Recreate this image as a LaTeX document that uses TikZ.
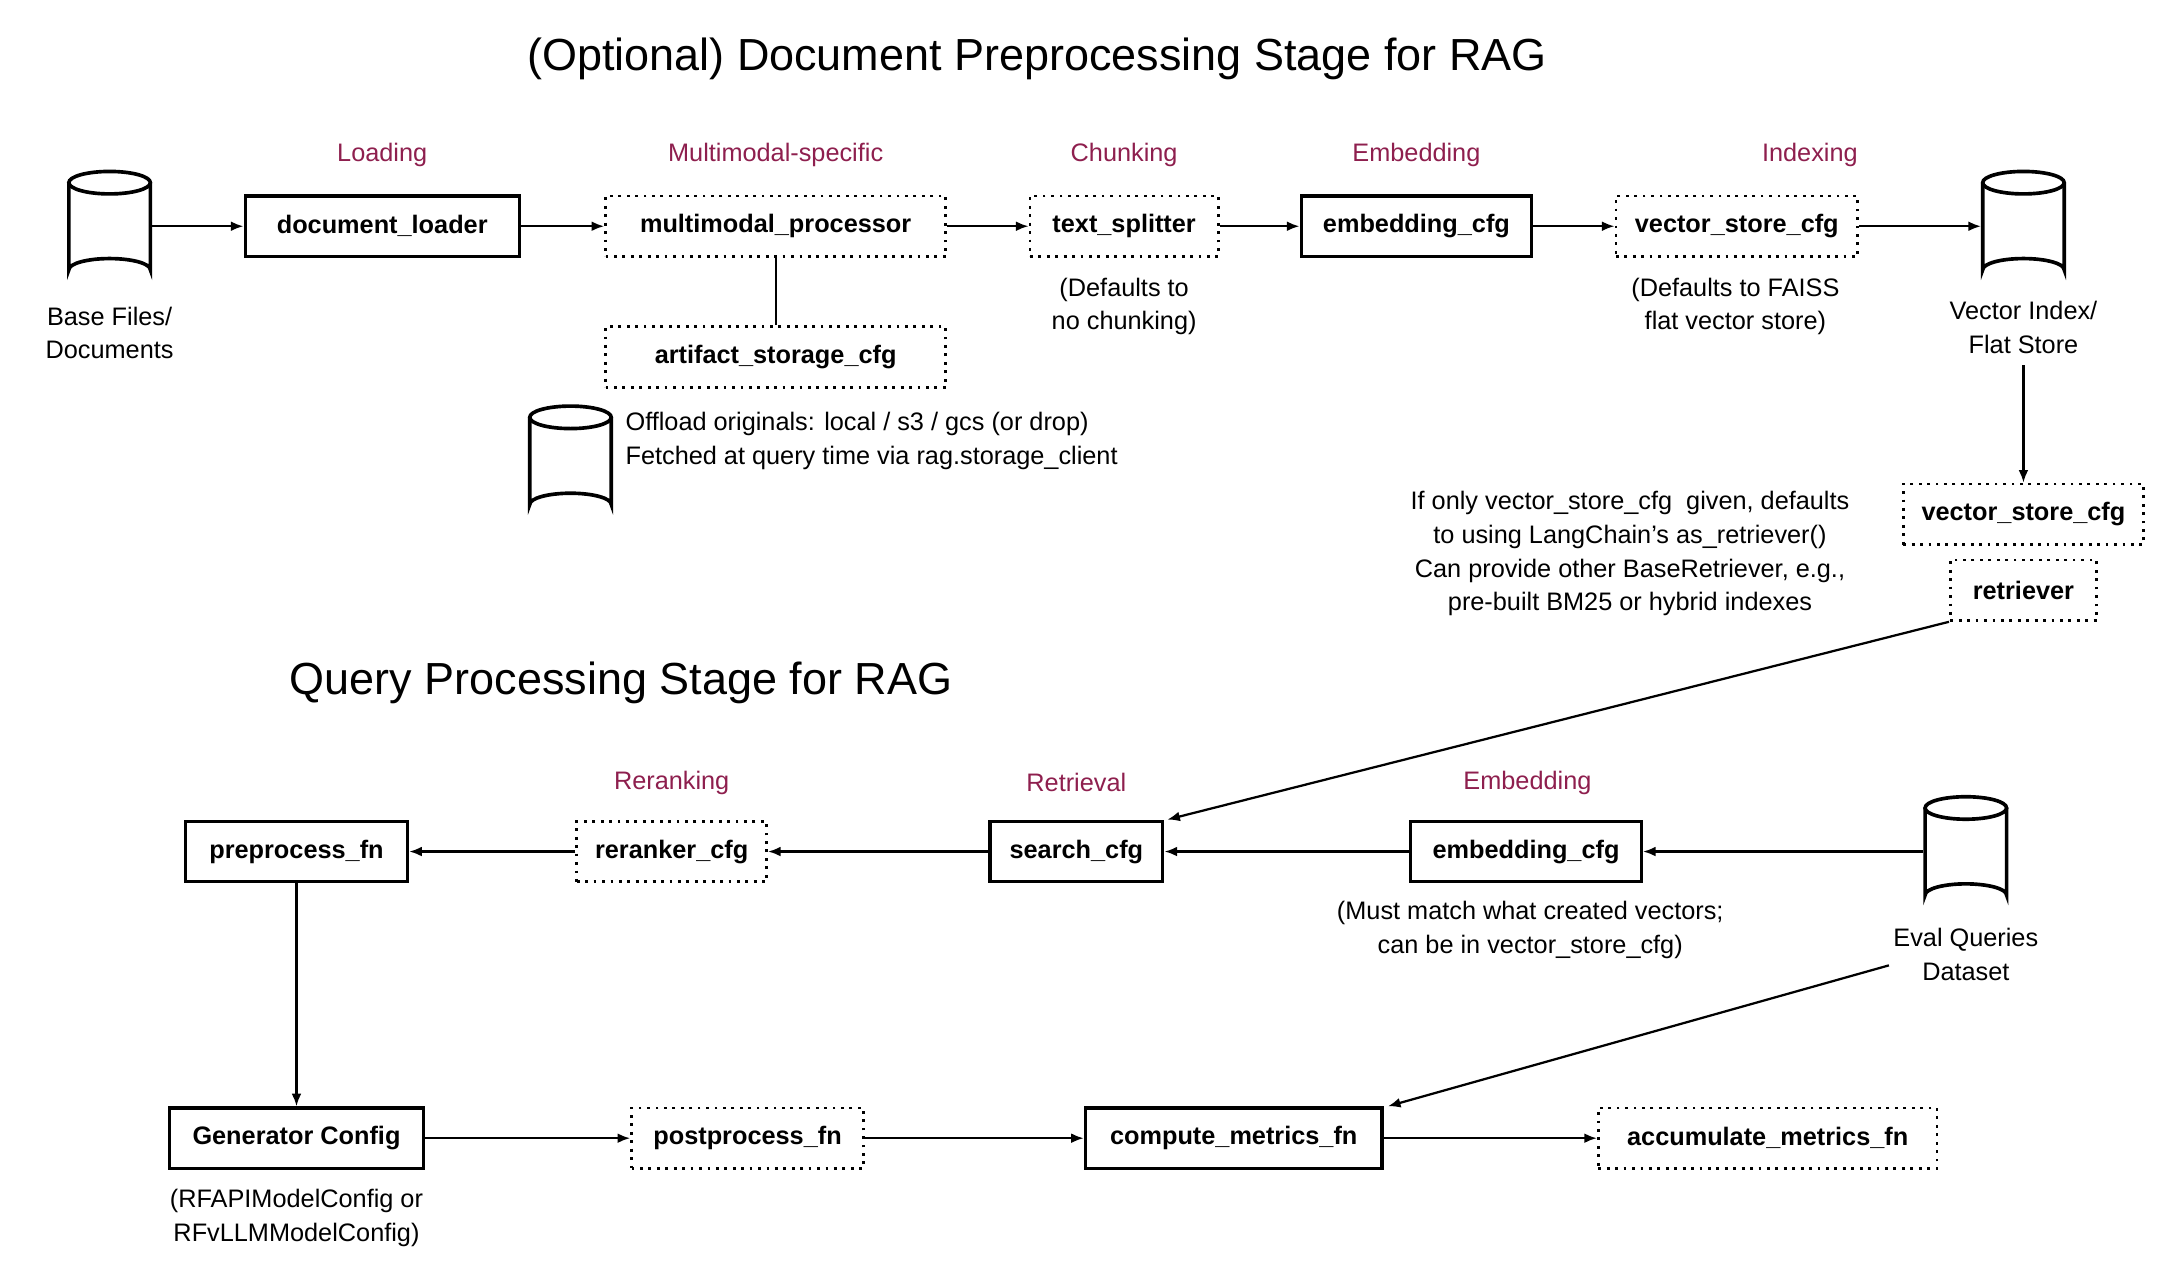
\documentclass[tikz,border=0pt]{standalone}
\usepackage{fontspec}
\setmainfont{Liberation Sans}
\usetikzlibrary{arrows.meta}
\definecolor{lab}{HTML}{8E1F4E}
\begin{document}
\begin{tikzpicture}[x=1pt,y=-1pt,
  txt/.style={font=\fontsize{18}{24}\selectfont,align=center,inner sep=0},
  lbl/.style={font=\fontsize{18}{24}\selectfont,text=lab,inner sep=0},
  sbox/.style={draw,line width=2.4,font=\fontsize{18}{22}\selectfont\bfseries,minimum height=43,inner sep=0},
  dbox/.style={draw,line width=2,dash pattern=on 2pt off 4pt,font=\fontsize{18}{22}\selectfont\bfseries,minimum height=43,inner sep=0},
  arr/.style={line width=1.6,-{Latex[length=9,width=7]}},
  ttl/.style={font=\fontsize{32}{38}\selectfont,inner sep=0},
  db/.pic={\draw[line width=2.6] (0,-31) ellipse (29 and 8);
    \draw[line width=2.6] (-29,-31) -- (-29,31) arc (180:360:29 and 8) -- (29,-31);}]
\useasboundingbox (0,0) rectangle (1550,905);
\node[ttl] (t1) at (738,42) {(Optional) Document Preprocessing Stage for RAG};
\node[ttl] (t2) at (442,486) {Query Processing Stage for RAG};
% top row
\node[minimum width=60,minimum height=78,inner sep=0] (c1) at (78,161) {}; \pic at (78,161) {db};
\node[txt] (c1l) at (78,237) {Base Files/\\Documents};
\node[sbox,minimum width=195] (dl) at (272,161) {document\_loader};
\node[dbox,minimum width=242] (mm) at (552,161) {multimodal\_processor};
\node[dbox,minimum width=134] (ts) at (800,161) {text\_splitter};
\node[sbox,minimum width=164] (em) at (1008,161) {embedding\_cfg};
\node[dbox,minimum width=172] (vs) at (1236,161) {vector\_store\_cfg};
\node[minimum width=60,minimum height=78,inner sep=0] (c2) at (1440,161) {}; \pic at (1440,161) {db};
\node[txt] (c2l) at (1440,233) {Vector Index/\\Flat Store};
\node[lbl] at (272,110) {Loading};
\node[lbl] at (552,110) {Multimodal-specific};
\node[lbl] at (800,110) {Chunking};
\node[lbl] at (1008,110) {Embedding};
\node[lbl] at (1288,110) {Indexing};
\node[txt] at (800,218) {(Defaults to\\no chunking)};
\node[txt] at (1235,218) {(Defaults to FAISS\\flat vector store)};
\node[dbox,minimum width=242] (as) at (552,254) {artifact\_storage\_cfg};
\node[minimum width=60,minimum height=78,inner sep=0] (c3) at (406,328) {}; \pic at (406,328) {db};
\node[txt,align=left,anchor=west] at (445,314) {Offload originals: local / s3 / gcs (or drop)\\Fetched at query time via rag.storage\_client};
\draw[line width=1.6] (mm.south) -- (as.north);
\draw[arr] (c1.east) -- (dl.west);
\draw[arr] (dl.east) -- (mm.west);
\draw[arr] (mm.east) -- (ts.west);
\draw[arr] (ts.east) -- (em.west);
\draw[arr] (em.east) -- (vs.west);
\draw[arr] (vs.east) -- (c2.west);
\node[dbox,minimum width=171] (vs2) at (1440,366) {vector\_store\_cfg};
\node[dbox,minimum width=104] (ret) at (1440,420) {retriever};
\draw[arr] (c2l.south) ++(0,8) coordinate (c2b) -- (vs2.north);
\node[txt] at (1160,394) {If only vector\_store\_cfg\ \ given, defaults\\to using LangChain’s as\_retriever()\\Can provide other BaseRetriever, e.g.,\\pre-built BM25 or hybrid indexes};
% query row
\node[sbox,minimum width=158] (pp) at (211,606) {preprocess\_fn};
\node[dbox,minimum width=135] (rr) at (478,606) {reranker\_cfg};
\node[sbox,minimum width=123] (sc) at (766,606) {search\_cfg};
\node[sbox,minimum width=164] (em2) at (1086,606) {embedding\_cfg};
\node[minimum width=60,minimum height=78,inner sep=0] (c4) at (1399,606) {}; \pic at (1399,606) {db};
\node[txt] (c4l) at (1399,679) {Eval Queries\\Dataset};
\node[lbl] at (478,557) {Reranking};
\node[lbl] at (766,557) {Retrieval};
\node[lbl] at (1087,557) {Embedding};
\node[txt] at (1089,662) {(Must match what created vectors;\\can be in vector\_store\_cfg)};
\draw[arr] (c4.west) -- (em2.east);
\draw[arr] (em2.west) -- (sc.east);
\draw[arr] (sc.west) -- (rr.east);
\draw[arr] (rr.west) -- (pp.east);
\draw[arr] (ret.south west) -- ([xshift=2]sc.north east);
\node[sbox,minimum width=181] (gc) at (211,810) {Generator Config};
\node[dbox,minimum width=165] (po) at (532,810) {postprocess\_fn};
\node[sbox,minimum width=211] (cm) at (878,810) {compute\_metrics\_fn};
\node[dbox,minimum width=241] (ac) at (1258,810) {accumulate\_metrics\_fn};
\node[txt] at (211,867) {(RFAPIModelConfig or\\RFvLLMModelConfig)};
\draw[arr] (pp.south) -- (gc.north);
\draw[arr] (gc.east) -- (po.west);
\draw[arr] (po.east) -- (cm.west);
\draw[arr] (cm.east) -- (ac.west);
\draw[arr] ([xshift=-3,yshift=-8]c4l.west) -- ([xshift=3]cm.north east);
\end{tikzpicture}
\end{document}
